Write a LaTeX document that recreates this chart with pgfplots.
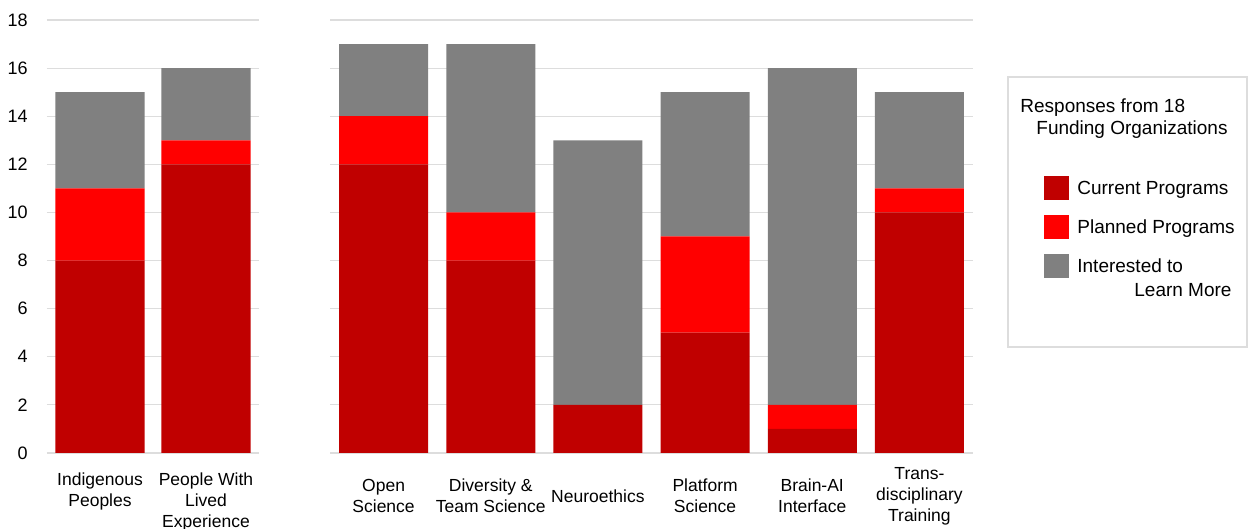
\documentclass[border=0pt]{standalone}
\usepackage{pgfplots}
\pgfplotsset{compat=1.18}
\usepackage{fontspec}
\setmainfont{Liberation Sans}
\definecolor{cur}{HTML}{C00000}
\definecolor{pln}{HTML}{FF0000}
\definecolor{intr}{HTML}{808080}
\definecolor{gridc}{HTML}{DDDDDD}
\pgfplotsset{
  mybars/.style={
    ybar stacked, bar width=44.5pt, scale only axis,
    height=216.5pt, ymin=0, ymax=18, ytick={0,2,...,18},
    enlargelimits=false,
    ymajorgrids, grid style={gridc, line width=0.6pt},
    axis line style={draw=none}, major tick length=0pt,
    xtick=data,
    x tick label style={font=\fontsize{8.75}{10.5}\selectfont, align=center, inner sep=0pt},
    y tick label style={font=\fontsize{9}{10.8}\selectfont, anchor=east, inner sep=0pt, xshift=-9.5pt},
    /pgf/number format/assume math mode=true,
    clip=false,
  }
}
\begin{document}
\begin{tikzpicture}
\begin{axis}[mybars, at={(23.5pt,38pt)}, anchor=south west, width=106pt,
  xmin=-0.5, xmax=1.5,
  xticklabels={{Indigenous\\Peoples},{People With\\Lived\\Experience}},
  x tick label style={anchor=north, yshift=-9.5pt}]
\addplot[fill=cur, draw=none] coordinates {(0,8) (1,12)};
\addplot[fill=pln, draw=none] coordinates {(0,3) (1,1)};
\addplot[fill=intr, draw=none] coordinates {(0,4) (1,3)};
\end{axis}
\begin{axis}[mybars, at={(165pt,38pt)}, anchor=south west, width=321.5pt,
  xmin=-0.5, xmax=5.5, yticklabels={},
  xticklabels={{Open\\Science},{Diversity \&\\Team Science},{Neuroethics},{Platform\\Science},{Brain-AI\\Interface},{Trans-\\disciplinary\\Training}},
  x tick label style={anchor=center, yshift=-21.5pt},
  legend cell align=left,
  legend style={at={(1.1104,0.6397)}, anchor=north west, draw=none, fill=none, inner sep=0pt,
    row sep={19.5pt,between origins}, font=\fontsize{9.5}{12}\selectfont,
    cells={anchor=base west}},
  legend image code/.code={\fill[#1] (0pt,-3pt) rectangle (12.5pt,9pt); \path (14.5pt,0pt);}]
\addplot[fill=cur, draw=none] coordinates {(0,12) (1,8) (2,2) (3,5) (4,1) (5,10)};
\addplot[fill=pln, draw=none] coordinates {(0,2) (1,2) (2,0) (3,4) (4,1) (5,1)};
\addplot[fill=intr, draw=none] coordinates {(0,3) (1,7) (2,11) (3,6) (4,14) (5,4)};
\addlegendentry{Current Programs}
\addlegendentry{Planned Programs}
\addlegendentry{\begin{tabular}[t]{@{}l@{}}Interested to\\\hspace*{28.5pt}Learn More\end{tabular}}
\end{axis}
\draw[gridc, line width=0.6pt] (504pt,91pt) rectangle (623.5pt,226pt);
\node[anchor=base west, inner sep=0pt, font=\fontsize{9.5}{11.5}\selectfont] at (510pt,208.2pt) {Responses from 18};
\node[anchor=base west, inner sep=0pt, font=\fontsize{9.5}{11.5}\selectfont] at (518pt,197pt) {Funding Organizations};
\pgfresetboundingbox
\path[use as bounding box] (0pt,0pt) rectangle (624.5pt,264.5pt);
\end{tikzpicture}
\end{document}
